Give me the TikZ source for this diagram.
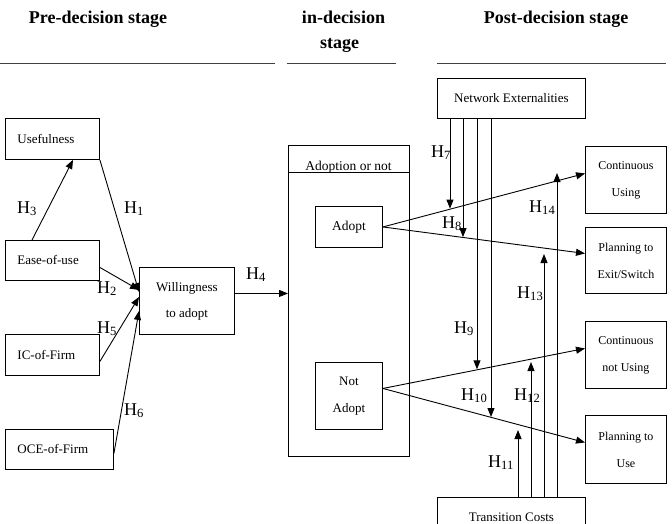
\documentclass[tikz,border=0pt]{standalone}
\usepackage{fontspec}
\setmainfont{Liberation Serif}
\usetikzlibrary{arrows.meta,calc}
\begin{document}
\begin{tikzpicture}[x=1pt,y=-1pt,
  box/.style={draw,line width=0.9pt,rectangle,inner sep=0pt,anchor=north west},
  lbox/.style={box,align=left,inner xsep=12pt,font=\fontsize{13}{26}\selectfont},
  cbox/.style={box,align=center,font=\fontsize{13}{26}\selectfont},
  rbox/.style={box,align=center,font=\fontsize{12}{27}\selectfont},
  arr/.style={line width=0.9pt,-{Triangle[length=9pt,width=7pt]}},
  plain/.style={line width=0.9pt},
  hl/.style={anchor=base west,font=\fontsize{18}{20}\selectfont,inner sep=0pt},
  head/.style={anchor=base,font=\fontsize{18}{25}\selectfont\bfseries,inner sep=0pt},
  rule/.style={line width=1.4pt,draw=black!75}]
\useasboundingbox (0,0) rectangle (672,523);

% headings
\node[head] (pre) at (98,23) {Pre-decision stage};
\node[head] (ind1) at (343.5,23) {in-decision};
\node[head] (ind2) at (339.5,48) {stage};
\node[head] (post) at (556,23) {Post-decision stage};
\draw[rule] (0,63.5) -- (275,63.5);
\draw[rule] (287,63.5) -- (396,63.5);
\draw[rule] (437,63.5) -- (666,63.5);

% left boxes
\node[lbox,text width=70pt,minimum height=41pt] (use) at (5,118) {Usefulness};
\node[lbox,text width=70pt,minimum height=40pt] (eou) at (5,240) {Ease-of-use};
\node[lbox,text width=70pt,minimum height=41pt] (ic) at (5,334) {IC-of-Firm};
\node[lbox,text width=84pt,minimum height=40pt] (oce) at (5,429) {OCE-of-Firm};
\node[cbox,minimum width=95pt,minimum height=67pt] (will) at (139,267) {Willingness\\to adopt};

% decision box
\node[box,minimum width=121pt,minimum height=311pt] (aon) at (288,145) {};
\draw[plain] ($(aon.north west)+(0,27)$) -- ($(aon.north east)+(0,27)$);
\node[anchor=base,inner sep=0pt,font=\fontsize{13.5}{26}\selectfont] (aont) at (348.5,170) {Adoption or not};
\node[cbox,minimum width=67pt,minimum height=41pt,font=\fontsize{13.5}{26}\selectfont] (adopt) at (315,206) {Adopt};
\node[cbox,minimum width=67pt,minimum height=67pt,font=\fontsize{13}{27}\selectfont] (nadopt) at (315,362) {Not\\Adopt};

% post boxes
\node[cbox,minimum width=148pt,minimum height=40pt] (ne) at (437,78) {Network Externalities};
\node[cbox,minimum width=148pt,minimum height=40pt] (tc) at (437,497) {Transition Costs};
\node[rbox,minimum width=81pt,minimum height=67pt] (cu) at (585,146) {Continuous\\Using};
\node[rbox,minimum width=81pt,minimum height=66pt] (pe) at (585,227) {Planning to\\Exit/Switch};
\node[rbox,minimum width=81pt,minimum height=67pt] (cnu) at (585,321) {Continuous\\not Using};
\node[rbox,minimum width=81pt,minimum height=68pt] (pu) at (585,415) {Planning to\\Use};

% left arrows
\draw[arr] ($(eou.north west)+(27,0)$) -- ($(use.south west)+(68,0)$);
\draw[arr] (use.south east) -- ($(will.west)+(0,-9)$);
\draw[arr] ($(eou.east)+(0,7)$) -- ($(will.west)+(0,-11)$);
\draw[arr] ($(ic.east)+(0,6.5)$) -- ($(will.west)+(0,-4)$);
\draw[arr] ($(oce.east)+(0,4)$) -- ($(will.west)+(0,10)$);
\coordinate (w4) at ($(will.east)+(0,-7.5)$);
\draw[arr] (w4) -- (w4 -| aon.west);

% outcome arrows
\draw[arr] (adopt.east) -- ($(cu.west)+(0,-6.5)$);
\draw[arr] (adopt.east) -- ($(pe.west)+(0,-7)$);
\draw[arr] ($(nadopt.east)+(0,-7.5)$) -- ($(cnu.west)+(0,-6.5)$);
\draw[arr] ($(nadopt.east)+(0,-7.5)$) -- ($(pu.west)+(0,-7)$);

% network externalities arrows
\coordinate (p7) at (450,208.6);
\coordinate (p8) at (463,237.1);
\coordinate (p9) at (477,369.3);
\coordinate (p10) at (491,417);
\draw[arr] ($(ne.south west)+(13,0)$) -- (p7);
\draw[arr] ($(ne.south west)+(26,0)$) -- (p8);
\draw[arr] ($(ne.south west)+(40,0)$) -- (p9);
\draw[arr] ($(ne.south west)+(54,0)$) -- (p10);

% transition costs arrows
\coordinate (q11) at (518,430);
\coordinate (q12) at (531,362);
\coordinate (q13) at (544,254);
\coordinate (q14) at (557,173);
\draw[arr] ($(tc.north west)+(81,0)$) -- (q11);
\draw[arr] ($(tc.north west)+(94,0)$) -- (q12);
\draw[arr] ($(tc.north west)+(107,0)$) -- (q13);
\draw[arr] ($(tc.north west)+(120,0)$) -- (q14);

% hypothesis labels
\node[hl] (h1) at (124,213) {H\textsubscript{1}};
\node[hl] (h2) at (97,293) {H\textsubscript{2}};
\node[hl] (h3) at (17,213) {H\textsubscript{3}};
\node[hl] (h4) at (246,279) {H\textsubscript{4}};
\node[hl] (h5) at (97,333) {H\textsubscript{5}};
\node[hl] (h6) at (124,415) {H\textsubscript{6}};
\node[hl] (h7) at (431,157) {H\textsubscript{7}};
\node[hl] (h8) at (442,228) {H\textsubscript{8}};
\node[hl] (h9) at (454,333) {H\textsubscript{9}};
\node[hl] (h10) at (461,400) {H\textsubscript{10}};
\node[hl] (h11) at (488,467) {H\textsubscript{11}};
\node[hl] (h12) at (514,400) {H\textsubscript{12}};
\node[hl] (h13) at (517,298) {H\textsubscript{13}};
\node[hl] (h14) at (529,212) {H\textsubscript{14}};
\end{tikzpicture}
\end{document}
